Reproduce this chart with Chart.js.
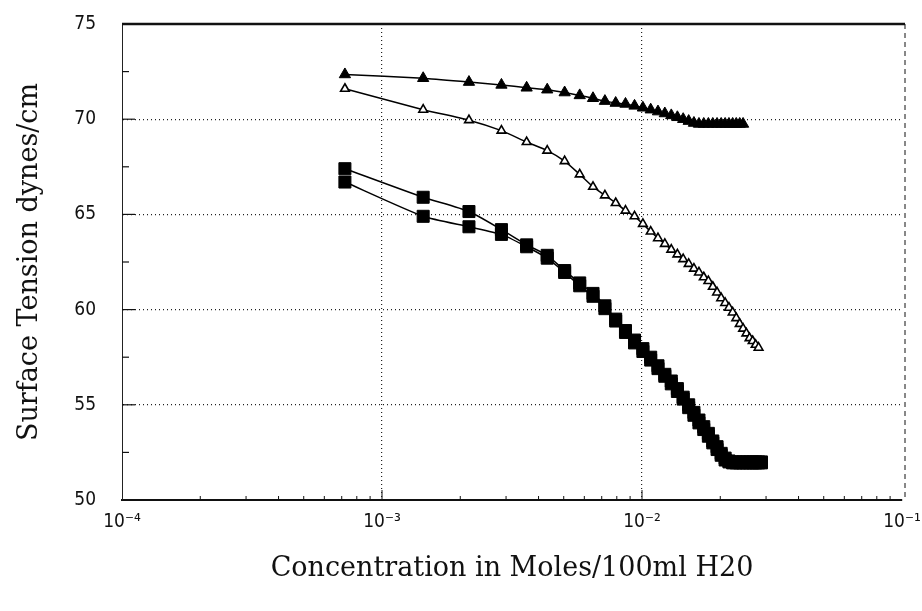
<!DOCTYPE html>
<html>
<head>
<meta charset="utf-8">
<script src="https://cdn.jsdelivr.net/npm/chart.js@4.4.1/dist/chart.umd.min.js"></script>
<style>
  html, body { margin: 0; padding: 0; background: #fff; }
  canvas { display: block; }
</style>
</head>
<body>
<canvas id="grafico" width="922" height="611"></canvas>
<script>
// concentração em Moles/100ml H2O (eixo x, log)
const concentracao = [0.00072, 0.00144, 0.00216, 0.00288, 0.0036, 0.00432, 0.00504, 0.00576, 0.00648, 0.0072,
    0.00792, 0.00864, 0.00936, 0.01008, 0.0108, 0.01152, 0.01224, 0.01296, 0.01368, 0.0144,
    0.01512, 0.01584, 0.01656, 0.01728, 0.018, 0.01872, 0.01944, 0.02016, 0.02088, 0.0216,
    0.02232, 0.02304, 0.02376, 0.02448, 0.0252, 0.02592, 0.02664, 0.02736, 0.02808, 0.0288];

// tensão superficial dynes/cm
const trianguloCheio = [72.35, 72.15, 71.95, 71.8, 71.65, 71.55, 71.4, 71.25, 71.1, 70.95,
    70.85, 70.8, 70.7, 70.6, 70.5, 70.4, 70.3, 70.2, 70.1, 70.0,
    69.9, 69.8, 69.75, 69.75, 69.75, 69.75, 69.75, 69.75, 69.75, 69.75,
    69.75, 69.75, 69.75, 69.75];

const trianguloVazio = [71.6, 70.5, 69.95, 69.4, 68.8, 68.35, 67.8, 67.1, 66.45, 66.0,
    65.6, 65.2, 64.9, 64.5, 64.1, 63.75, 63.45, 63.15, 62.9, 62.65,
    62.4, 62.15, 61.95, 61.7, 61.5, 61.2, 60.9, 60.6, 60.35, 60.1,
    59.85, 59.55, 59.25, 59.0, 58.75, 58.5, 58.35, 58.15, 58.0];

const quadradoSuperior = [67.4, 65.9, 65.15, 64.2, 63.4, 62.85, 62.05, 61.4, 60.85, 60.2,
    59.5, 58.9, 58.4, 57.95, 57.5, 57.05, 56.6, 56.25, 55.85, 55.4,
    55.0, 54.6, 54.2, 53.85, 53.5, 53.1, 52.8, 52.45, 52.2, 52.05,
    51.95, 51.95, 51.95, 51.95, 51.95, 51.95, 51.95, 51.95, 51.95, 51.95];

const quadradoInferior = [66.7, 64.9, 64.35, 63.95, 63.3, 62.7, 61.95, 61.25, 60.7, 60.05,
    59.4, 58.8, 58.25, 57.8, 57.35, 56.9, 56.5, 56.1, 55.7, 55.3,
    54.85, 54.45, 54.05, 53.7, 53.35, 53.0, 52.65, 52.35, 52.1, 52.0,
    52.0, 52.0, 52.0, 52.0, 52.0, 52.0, 52.0, 52.0, 52.0, 52.0];

// rótulos dos eixos
const rotulosX = ['10⁻⁴', '10⁻³', '10⁻²', '10⁻¹'];
const gradeX = [0.001, 0.01];
const gradeY = [55, 60, 65, 70];
const menoresY = [52.5, 57.5, 62.5, 67.5, 72.5];

function montarPontos(valores) {
    return valores.map(function (v, i) {
        return { x: concentracao[i], y: v };
    });
}

function expoente(valor) {
    const e = Math.log10(valor);
    if (Math.abs(e - Math.round(e)) < 1e-6) return Math.round(e);
    return null;
}

// moldura: linha de cima grossa, direita tracejada, risquinhos para dentro
const moldura = {
    id: 'moldura',
    afterDraw(chart) {
        const ctx = chart.ctx;
        const area = chart.chartArea;
        const x = chart.scales.x;
        const y = chart.scales.y;
        ctx.save();
        ctx.strokeStyle = '#111';

        ctx.lineWidth = 2.5;
        ctx.beginPath();
        ctx.moveTo(area.left, area.top);
        ctx.lineTo(area.right + 3, area.top);
        ctx.stroke();

        ctx.lineWidth = 1;
        ctx.setLineDash([5, 4]);
        ctx.beginPath();
        ctx.moveTo(area.right + 3, area.top);
        ctx.lineTo(area.right + 3, area.bottom);
        ctx.stroke();
        ctx.setLineDash([]);

        ctx.lineWidth = 1.2;
        gradeY.forEach(function (v) {
            const py = y.getPixelForValue(v);
            ctx.beginPath();
            ctx.moveTo(area.left, py);
            ctx.lineTo(area.left + 13, py);
            ctx.stroke();
        });
        menoresY.forEach(function (v) {
            const py = y.getPixelForValue(v);
            ctx.beginPath();
            ctx.moveTo(area.left, py);
            ctx.lineTo(area.left + 7, py);
            ctx.stroke();
        });

        ctx.lineWidth = 1;
        [0.0001, 0.001, 0.01].forEach(function (dec) {
            for (let m = 2; m <= 9; m++) {
                const px = x.getPixelForValue(m * dec);
                ctx.beginPath();
                ctx.moveTo(px, area.bottom);
                ctx.lineTo(px, area.bottom - 4);
                ctx.stroke();
            }
        });
        gradeX.forEach(function (v) {
            const px = x.getPixelForValue(v);
            ctx.beginPath();
            ctx.moveTo(px, area.bottom);
            ctx.lineTo(px, area.bottom - 10);
            ctx.stroke();
        });
        ctx.restore();
    }
};

const estiloLinha = {
    borderColor: '#000',
    borderWidth: 1.5,
    showLine: true,
    tension: 0.2
};

const dados = {
    datasets: [
        Object.assign({
            label: 'triangulo cheio',
            data: montarPontos(trianguloCheio),
            pointStyle: 'triangle',
            pointRadius: 6.5,
            backgroundColor: '#000',
            pointBorderColor: '#000',
            pointBorderWidth: 1
        }, estiloLinha),
        Object.assign({
            label: 'triangulo vazio',
            data: montarPontos(trianguloVazio),
            pointStyle: 'triangle',
            pointRadius: 5,
            backgroundColor: '#fff',
            pointBorderColor: '#000',
            pointBorderWidth: 1.6
        }, estiloLinha),
        Object.assign({
            label: 'quadrado superior',
            data: montarPontos(quadradoSuperior),
            pointStyle: 'rect',
            pointRadius: 8.5,
            backgroundColor: '#000',
            pointBorderColor: '#000',
            pointBorderWidth: 1
        }, estiloLinha),
        Object.assign({
            label: 'quadrado inferior',
            data: montarPontos(quadradoInferior),
            pointStyle: 'rect',
            pointRadius: 8.5,
            backgroundColor: '#000',
            pointBorderColor: '#000',
            pointBorderWidth: 1
        }, estiloLinha)
    ]
};

const config = {
    type: 'scatter',
    data: dados,
    plugins: [moldura],
    options: {
        responsive: false,
        animation: false,
        devicePixelRatio: 1,
        layout: { padding: { top: 24, right: 20, bottom: 20, left: 12 } },
        plugins: {
            legend: { display: false },
            tooltip: { enabled: false }
        },
        scales: {
            x: {
                type: 'logarithmic',
                min: 0.0001,
                max: 0.1,
                afterFit: function (scale) {
                    scale.height = 91;
                    scale.paddingLeft = 0;
                    scale.paddingRight = 0;
                },
                border: { display: true, color: '#111', width: 2, dash: [1, 3] },
                grid: {
                    drawTicks: false,
                    lineWidth: 1.2,
                    color: function (ctx) {
                        if (!ctx.tick) return 'rgba(0,0,0,0)';
                        const e = expoente(ctx.tick.value);
                        return (e === -3 || e === -2) ? '#222' : 'rgba(0,0,0,0)';
                    }
                },
                ticks: {
                    autoSkip: false,
                    maxRotation: 0,
                    padding: 11,
                    color: '#111',
                    font: { family: 'DejaVu Sans Condensed', size: 19 },
                    callback: function (valor) {
                        const e = expoente(valor);
                        if (e === null) return '';
                        return rotulosX[e + 4];
                    }
                },
                title: {
                    display: true,
                    text: 'Concentration in Moles/100ml H20',
                    color: '#111',
                    padding: { top: 0, bottom: 6 },
                    font: { family: 'DejaVu Serif', size: 27, weight: 'normal' }
                }
            },
            y: {
                min: 50,
                max: 75,
                afterFit: function (scale) {
                    scale.width = 110;
                    scale.paddingTop = 0;
                    scale.paddingBottom = 0;
                },
                border: { display: true, color: '#222', width: 1, dash: [1, 3] },
                grid: {
                    drawTicks: false,
                    lineWidth: 1.2,
                    color: function (ctx) {
                        if (!ctx.tick) return 'rgba(0,0,0,0)';
                        return gradeY.indexOf(ctx.tick.value) >= 0 ? '#222' : 'rgba(0,0,0,0)';
                    }
                },
                ticks: {
                    stepSize: 5,
                    padding: 26,
                    color: '#111',
                    font: { family: 'DejaVu Sans Condensed', size: 19 }
                },
                title: {
                    display: true,
                    text: 'Surface Tension dynes/cm',
                    color: '#111',
                    padding: { top: 2, bottom: 0 },
                    font: { family: 'DejaVu Serif', size: 27, weight: 'normal' }
                }
            }
        }
    }
};

let myChart = new Chart(document.getElementById('grafico'), config);
</script>
</body>
</html>
